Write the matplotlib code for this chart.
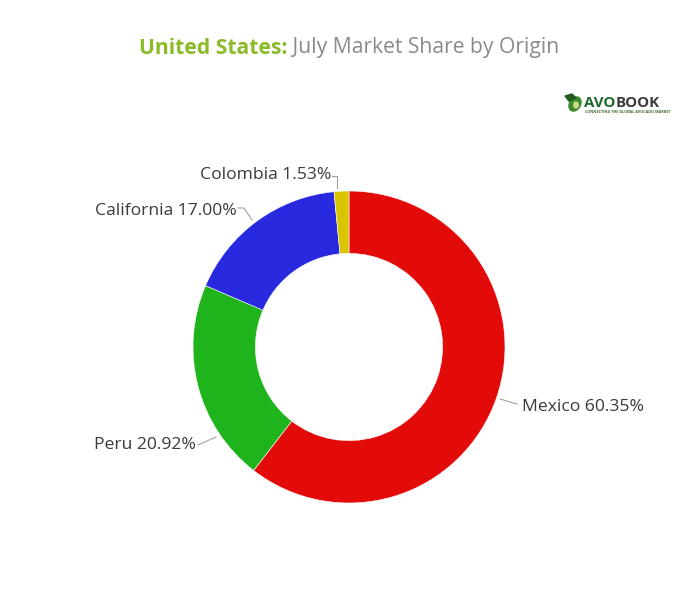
import matplotlib
matplotlib.use("Agg")
import matplotlib.pyplot as plt
import numpy as np
from matplotlib.patches import Ellipse, Polygon

# ---- data ----
categories = ["Mexico", "Peru", "California", "Colombia"]
shares = [60.35, 20.92, 17.00, 1.53]
colors = ["#E30A0A", "#20B41C", "#2828DE", "#D8C400"]
label_texts = [f"{c} {v:.2f}%" for c, v in zip(categories, shares)]

W, H = 700, 593
fig = plt.figure(figsize=(W / 100, H / 100), dpi=100)
ax = fig.add_axes([0, 0, 1, 1])

def py(y):
    return H - y

cx, cy, R = 349, py(347), 156
wedges, _ = ax.pie(shares, colors=colors, startangle=90, counterclock=False,
                   center=(cx, cy), radius=R,
                   wedgeprops=dict(width=R * 0.40, edgecolor="white", linewidth=0.4),
                   frame=True)
ax.set_xlim(0, W)
ax.set_ylim(0, H)
ax.set_aspect("equal")
ax.axis("off")

font = "Open Sans"
txtcol = "#3a3a3a"
linecol = "#a0a0a0"
fs = 12.6

# label layout: (text anchor x, y px, ha, leader line points px)
layout = {
    "Mexico": (522, 407, "left", [(500, 399), (517, 404)]),
    "Peru": (196, 445, "right", [(198, 445), (216, 437)]),
    "California": (237, 211, "right", [(238, 208), (244, 208), (252, 220)]),
    "Colombia": (331, 175, "right", [(332, 176), (337, 176), (337, 188)]),
}
for cat, lab in zip(categories, label_texts):
    x, y, ha, pts = layout[cat]
    ax.text(x, py(y), lab, ha=ha, va="center", fontsize=fs, family=font, color=txtcol)
    xs = [p[0] for p in pts]
    ys = [py(p[1]) for p in pts]
    ax.plot(xs, ys, color=linecol, lw=0.8)

# ---- title ----
t1 = "United States:"
t2 = " July Market Share by Origin"
tfs = 15.2
r = fig.canvas.get_renderer()
a = ax.text(0, 0, t1, fontsize=tfs, family=font, weight="bold", color="#8CBB2A")
b = ax.text(0, 0, t2, fontsize=tfs, family=font, color="#8a8a8a")
wa = a.get_window_extent(r).width
wb = b.get_window_extent(r).width
x0 = 349 - (wa + wb) / 2
ty = py(48)
a.set_position((x0, ty)); a.set_va("center")
b.set_position((x0 + wa, ty)); b.set_va("center")

# ---- logo ----
ax.add_patch(Ellipse((575, py(104)), 11, 15, angle=-30, color="#3d8a2a"))
ax.add_patch(Ellipse((576, py(105)), 4.5, 6, color="#c9d98a"))
ax.add_patch(Polygon([(565, py(96)), (572, py(94)), (576, py(98)), (569, py(101))],
                     closed=True, color="#1f5a1f"))
la = ax.text(584, py(103), "AVO", fontsize=10.8, family=font, weight="bold",
             color="#1f6a2a", va="center", ha="left")
wla = la.get_window_extent(r).width
ax.text(584 + wla, py(103), "BOOK", fontsize=10.8, family=font, weight="bold",
        color="#3b3b3b", va="center", ha="left")
ax.text(585, py(112), "CONNECTING THE GLOBAL AVOCADO MARKET", fontsize=2.7,
        family=font, weight="bold", color="#3d6a2a", va="center", ha="left")

fig.savefig("out.png", dpi=100, facecolor="white")
